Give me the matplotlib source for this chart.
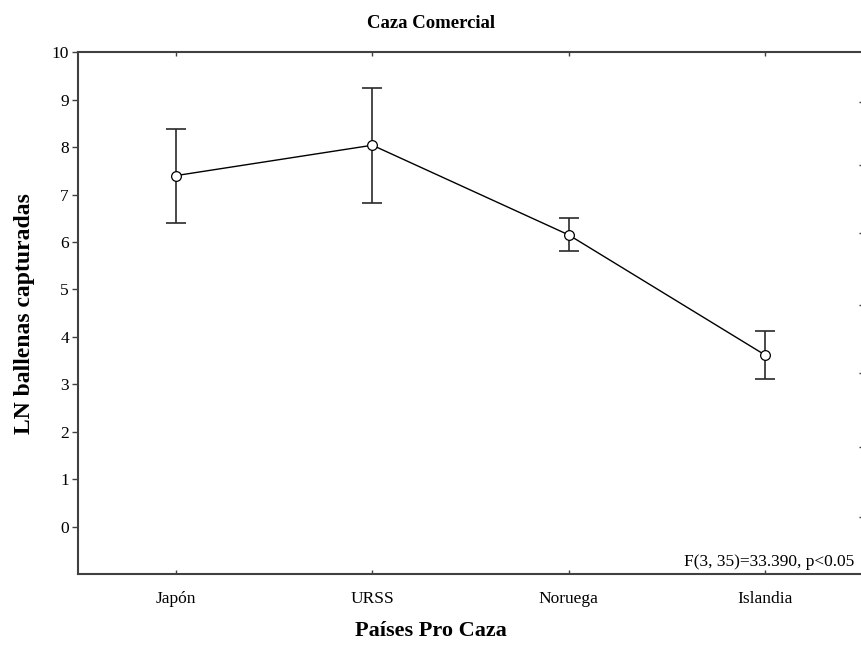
"""
Caza Comercial - medias con intervalos de confianza
"""

import matplotlib
matplotlib.use("Agg")
import matplotlib.pyplot as plt

# datos
paises = ["Japón", "URSS", "Noruega", "Islandia"]
medias = [7.40, 8.04, 6.15, 3.62]
errores = [0.99, 1.21, 0.35, 0.51]
y_ticks = [0, 1, 2, 3, 4, 5, 6, 7, 8, 9, 10]
# marcas del eje derecho (sin etiquetas)
ticks_derecha = [8.95, 7.62, 6.19, 4.67, 3.24, 1.68, 0.21]
anotacion = "F(3, 35)=33.390, p<0.05"

plt.rcParams["font.family"] = ["Liberation Serif", "DejaVu Serif"]

fig = plt.figure(figsize=(8.62, 6.45), dpi=100)
ax = fig.add_axes([0.0905, 0.110, 0.9107, 0.809])

x = list(range(len(paises)))
spine_col = "#404040"

ax.errorbar(x, medias, yerr=errores, fmt="none", ecolor="#2a2a2a",
            elinewidth=1.2, capsize=7.5, capthick=1.2, zorder=2)
ax.plot(x, medias, color="black", linewidth=1.0, marker="o",
        markersize=7, markerfacecolor="white", markeredgecolor="black",
        markeredgewidth=0.9, zorder=3)

ax.set_xlim(-0.5, 3.5)
ax.set_ylim(-1, 10)
ax.set_xticks(x)
ax.set_xticklabels(paises, fontsize=12.5)
ax.set_yticks(y_ticks)
ax.set_yticklabels([str(v) for v in y_ticks], fontsize=12.5)

ax.tick_params(axis="x", direction="in", length=3, width=1, color=spine_col,
               top=True, pad=12)
ax.tick_params(axis="y", direction="out", length=4, width=1, color=spine_col,
               pad=2.5)

for s in ax.spines.values():
    s.set_color(spine_col)
    s.set_linewidth(1.5)

# eje derecho con marcas internas
ax2 = ax.twinx()
ax2.set_ylim(-1, 10)
ax2.set_yticks(ticks_derecha)
ax2.set_yticklabels([])
ax2.tick_params(axis="y", direction="in", length=3, width=1, color=spine_col)
for s in ax2.spines.values():
    s.set_visible(False)

# titulo y etiquetas centradas en la figura
fig.text(0.5, 1 - 23 / 645, "Caza Comercial", ha="center", va="center",
         fontsize=13.5, fontweight="bold")
fig.text(0.5, 1 - 631 / 645, "Países Pro Caza", ha="center", va="center",
         fontsize=16, fontweight="bold")
ax.set_ylabel("LN ballenas capturadas", fontsize=17, fontweight="bold",
              labelpad=12)

ax.text(0.9885, 0.008, anotacion, transform=ax.transAxes, ha="right",
        va="bottom", fontsize=12.5)

fig.savefig("out.png", dpi=100)
